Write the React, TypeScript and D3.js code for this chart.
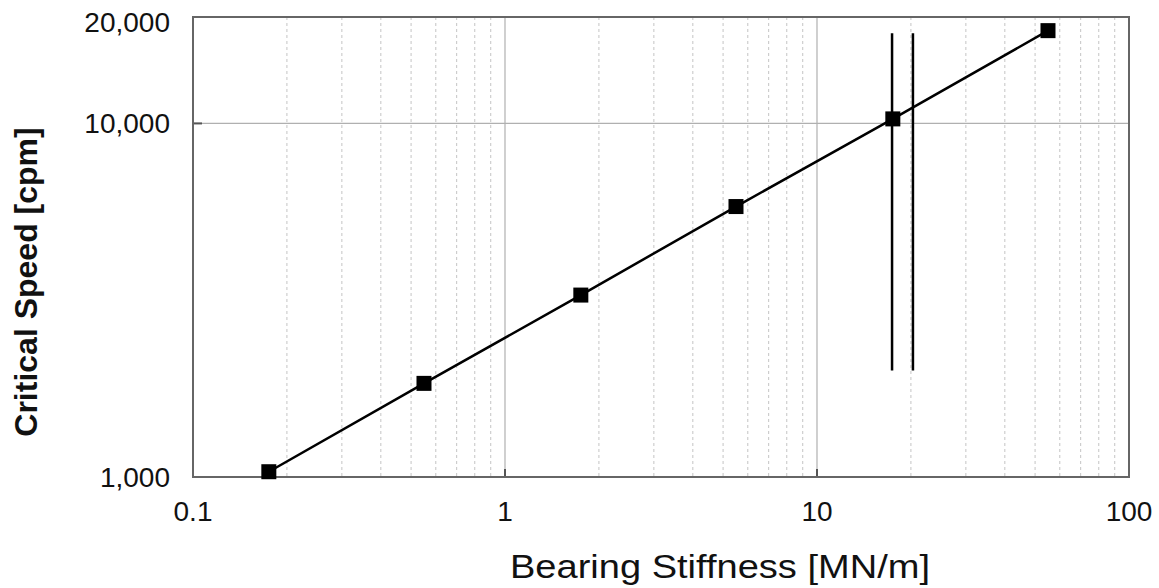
import React from "react";
import * as d3 from "d3";

// Bearing stiffness [MN/m] vs. first critical speed [cpm]
const stiffness = [0.175, 0.55, 1.75, 5.5, 17.5, 55];
const criticalSpeed = [1035, 1840, 3270, 5820, 10300, 18300];

// Vertical reference lines (operating band) and their extent in cpm
const bandStiffness = [17.4, 20.3];
const bandSpeedRange = [2000, 18000];

const xTickValues = [0.1, 1, 10, 100];
const yTickValues = [1000, 10000, 20000];
const xMinorGrid = [2, 3, 4, 5, 6, 7, 8, 9].flatMap((m) => [m * 0.1, m, m * 10]);

const W = 1159;
const H = 588;
const plot = { left: 193, right: 1129, top: 17, bottom: 477 };

const FONT = "Arial, 'Liberation Sans', Helvetica, sans-serif";

export default function App() {
  const x = d3.scaleLog().domain([0.1, 100]).range([plot.left, plot.right]);
  const y = d3.scaleLog().domain([1000, 20000]).range([plot.bottom, plot.top]);
  const fmt = d3.format(",");

  const line = d3
    .line<number>()
    .x((_, i) => x(stiffness[i]))
    .y((d) => y(d));

  const markerSize = 15;

  return (
    <svg
      width={W}
      height={H}
      style={{ position: "absolute", left: 0, top: 0, background: "#fff" }}
      fontFamily={FONT}
    >
      {/* minor vertical grid */}
      {xMinorGrid.map((v) => (
        <line
          key={"mg" + v}
          x1={x(v)}
          x2={x(v)}
          y1={plot.top}
          y2={plot.bottom}
          stroke="#c4c4c4"
          strokeWidth={1}
          strokeDasharray="3,3"
        />
      ))}
      {/* major vertical grid */}
      {[1, 10].map((v) => (
        <line
          key={"xg" + v}
          x1={x(v)}
          x2={x(v)}
          y1={plot.top}
          y2={plot.bottom}
          stroke="#b0b0b0"
          strokeWidth={1.2}
        />
      ))}
      {/* major horizontal grid */}
      <line
        x1={plot.left}
        x2={plot.right}
        y1={y(10000)}
        y2={y(10000)}
        stroke="#b0b0b0"
        strokeWidth={1.2}
      />

      {/* inward tick marks */}
      {[1, 10].map((v) => (
        <line
          key={"xt" + v}
          x1={x(v)}
          x2={x(v)}
          y1={plot.bottom}
          y2={plot.bottom - 8}
          stroke="#555"
          strokeWidth={2}
        />
      ))}
      <line
        x1={plot.left}
        x2={plot.left + 9}
        y1={y(10000)}
        y2={y(10000)}
        stroke="#555"
        strokeWidth={2}
      />

      {/* plot frame */}
      <rect
        x={plot.left}
        y={plot.top}
        width={plot.right - plot.left}
        height={plot.bottom - plot.top}
        fill="none"
        stroke="#666"
        strokeWidth={2}
      />

      {/* band lines */}
      {bandStiffness.map((v) => (
        <line
          key={"b" + v}
          x1={x(v)}
          x2={x(v)}
          y1={y(bandSpeedRange[0])}
          y2={y(bandSpeedRange[1])}
          stroke="#000"
          strokeWidth={2.5}
        />
      ))}

      {/* data line and markers */}
      <path d={line(criticalSpeed) ?? ""} fill="none" stroke="#000" strokeWidth={2.5} />
      {criticalSpeed.map((v, i) => (
        <rect
          key={"m" + i}
          x={x(stiffness[i]) - markerSize / 2}
          y={y(v) - markerSize / 2}
          width={markerSize}
          height={markerSize}
          fill="#000"
        />
      ))}

      {/* tick labels */}
      {xTickValues.map((v) => (
        <text
          key={"xl" + v}
          x={x(v)}
          y={plot.bottom + 44}
          textAnchor="middle"
          fontSize={28}
          fill="#111"
        >
          {v}
        </text>
      ))}
      {yTickValues.map((v) => (
        <text
          key={"yl" + v}
          x={170}
          y={Math.max(y(v), 22) + 10}
          textAnchor="end"
          fontSize={28}
          fill="#111"
        >
          {fmt(v)}
        </text>
      ))}

      {/* axis titles */}
      <text
        x={510}
        y={578}
        fontSize={33}
        textLength={420}
        lengthAdjust="spacingAndGlyphs"
        fill="#111"
      >
        Bearing Stiffness [MN/m]
      </text>
      <text
        transform={`translate(37,282) rotate(-90)`}
        textAnchor="middle"
        fontSize={32}
        fontWeight="bold"
        fill="#111"
      >
        Critical Speed [cpm]
      </text>
    </svg>
  );
}
